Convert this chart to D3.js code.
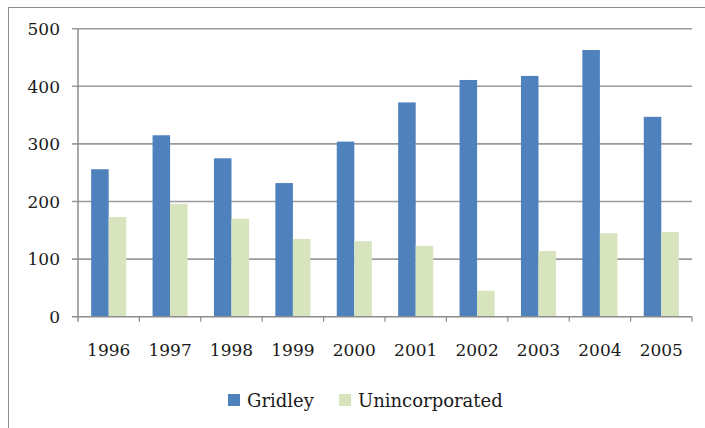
<!DOCTYPE html>
<html>
<head>
<meta charset="utf-8">
<script src="https://cdn.jsdelivr.net/npm/d3@7"></script>
<style>
  body { margin: 0; background: #fff; }
  svg { display: block; }
</style>
</head>
<body>
<svg width="705" height="428"></svg>
<script>
// values
const years = ['1996', '1997', '1998', '1999', '2000', '2001', '2002', '2003', '2004', '2005']
const gridley = [256, 315, 275, 232, 304, 372, 411, 418, 463, 347]
const unincorporated = [173, 196, 170, 135, 131, 123, 45, 114, 145, 147]
const yTicks = [0, 100, 200, 300, 400, 500]
const seriesNames = ['Gridley', 'Unincorporated']
const colors = ['#4f81bd', '#d7e4bd']
const font = "'DejaVu Serif', serif"

const svg = d3.select('svg')
const margin = {top: 28.7, left: 78, right: 692, bottom: 316.7}

// outer chart border
svg.append('rect')
  .attr('x', 8.5).attr('y', 7.5)
  .attr('width', 705).attr('height', 430)
  .attr('fill', 'none')
  .attr('stroke', '#8c8c8c')
  .attr('stroke-width', 1)

const y = d3.scaleLinear()
  .domain([0, 500])
  .range([margin.bottom, margin.top])

const x = d3.scaleBand()
  .domain(years)
  .range([margin.left, margin.right])

const barW = x.bandwidth() / 3.5
const gap = barW * 0.75

// gridlines
svg.append('g')
  .selectAll('line')
  .data(yTicks.filter(d => d > 0))
  .enter()
  .append('line')
  .attr('x1', margin.left - 6).attr('x2', margin.right)
  .attr('y1', d => y(d)).attr('y2', d => y(d))
  .attr('stroke', '#9a9a9a')
  .attr('stroke-width', 1.6)

// y labels
svg.append('g')
  .selectAll('text')
  .data(yTicks)
  .enter()
  .append('text')
  .attr('x', 60)
  .attr('y', d => y(d) + 6.3)
  .attr('text-anchor', 'end')
  .attr('font-family', font)
  .attr('font-size', 17)
  .attr('fill', '#1a1a1a')
  .text(d => d)

// bars
const series = [gridley, unincorporated]
series.forEach((vals, s) => {
  svg.append('g')
    .selectAll('rect')
    .data(vals)
    .enter()
    .append('rect')
    .attr('x', (d, i) => x(years[i]) + gap + s * barW)
    .attr('y', d => y(d))
    .attr('width', barW)
    .attr('height', d => y(0) - y(d))
    .attr('fill', colors[s])
})

// y axis line
svg.append('line')
  .attr('x1', margin.left).attr('x2', margin.left)
  .attr('y1', margin.top).attr('y2', margin.bottom + 5)
  .attr('stroke', '#8c8c8c')
  .attr('stroke-width', 1.5)

// x axis with ticks between categories
svg.append('line')
  .attr('x1', margin.left - 6).attr('x2', margin.right)
  .attr('y1', y(0)).attr('y2', y(0))
  .attr('stroke', '#8c8c8c')
  .attr('stroke-width', 1.6)

svg.append('g')
  .selectAll('line')
  .data(years.slice(1).concat(['end']))
  .enter()
  .append('line')
  .attr('x1', d => d == 'end' ? margin.right : x(d))
  .attr('x2', d => d == 'end' ? margin.right : x(d))
  .attr('y1', y(0)).attr('y2', y(0) + 5)
  .attr('stroke', '#8c8c8c')
  .attr('stroke-width', 1.2)

svg.append('g')
  .selectAll('text')
  .data(years)
  .enter()
  .append('text')
  .attr('x', d => x(d) + x.bandwidth() / 2)
  .attr('y', 356)
  .attr('text-anchor', 'middle')
  .attr('font-family', font)
  .attr('font-size', 17)
  .attr('fill', '#1a1a1a')
  .text(d => d)

// legend
const legendX = [228, 339]
seriesNames.forEach((name, s) => {
  svg.append('rect')
    .attr('x', legendX[s]).attr('y', 394)
    .attr('width', 12).attr('height', 12)
    .attr('fill', colors[s])
  svg.append('text')
    .attr('x', legendX[s] + 19)
    .attr('y', 407)
    .attr('font-family', font)
    .attr('font-size', 18)
    .attr('fill', '#1a1a1a')
    .text(name)
})
</script>
</body>
</html>
